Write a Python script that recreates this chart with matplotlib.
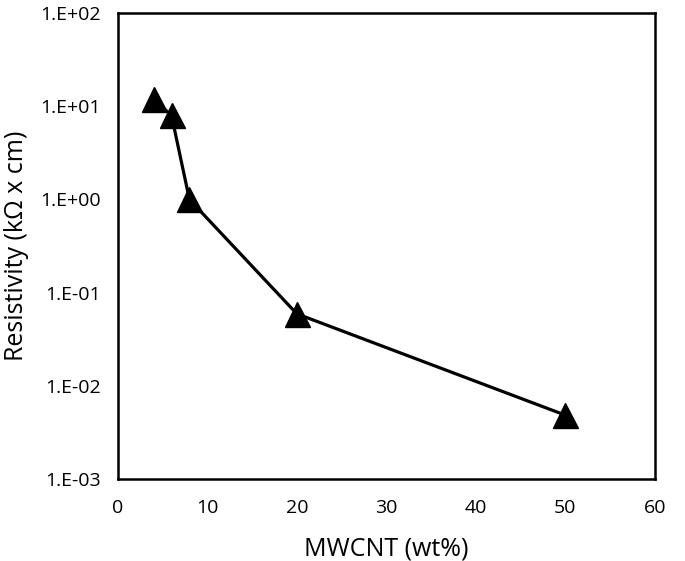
import matplotlib
matplotlib.use("Agg")
import matplotlib.pyplot as plt
from matplotlib.ticker import FixedLocator, FuncFormatter, NullLocator
import math

# datos
mwcnt = [4, 6, 8, 20, 50]
resistividad = [12.0, 8.0, 1.0, 0.059, 0.0048]

plt.rcParams['font.family'] = ['Open Sans', 'DejaVu Sans']

fig = plt.figure(figsize=(6.85, 5.61), dpi=100)
ax = fig.add_axes([0.172, 0.147, 0.784, 0.829])

ax.plot(mwcnt, resistividad, color='black', linewidth=2.3, marker='^',
        markersize=18, markerfacecolor='black', markeredgecolor='black', zorder=3)

ax.set_yscale('log')
ax.set_ylim(1e-3, 1e2)
ax.set_xlim(0, 60)
ax.set_xticks([0, 10, 20, 30, 40, 50, 60])
ax.yaxis.set_major_locator(FixedLocator([1e-3, 1e-2, 1e-1, 1e0, 1e1, 1e2]))
ax.yaxis.set_minor_locator(NullLocator())

def fmt(v, pos):
    e = int(round(math.log10(v)))
    return '1.E%s%02d' % ('+' if e >= 0 else '-', abs(e))

ax.yaxis.set_major_formatter(FuncFormatter(fmt))
ax.tick_params(axis='y', length=0, labelsize=14, pad=12)
ax.tick_params(axis='x', length=0, labelsize=14, pad=15)

for s in ax.spines.values():
    s.set_linewidth(1.8)

ax.set_xlabel('MWCNT (wt%)', fontsize=18, labelpad=14)
ax.set_ylabel('Resistivity (kΩ x cm)', fontsize=18, labelpad=8)

fig.savefig('out.png', dpi=100)
